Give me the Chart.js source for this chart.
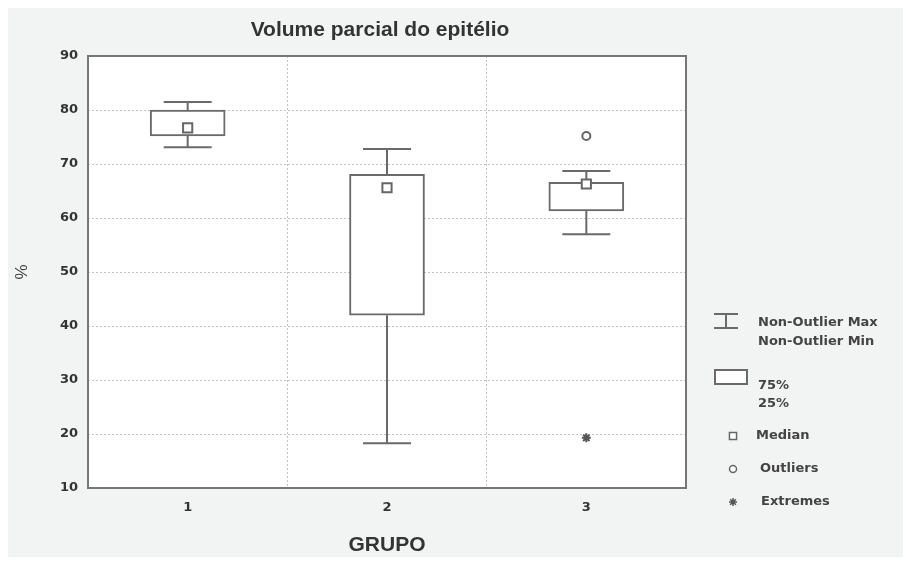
<!DOCTYPE html>
<html>
<head>
<meta charset="utf-8">
<script src="https://cdn.jsdelivr.net/npm/chart.js@4"></script>
<style>
  body { margin: 0; background: #fff; }
  canvas { display: block; }
</style>
</head>
<body>
<canvas id="boxChart" width="903" height="565"></canvas>
<script>
// values
const groups = ['1', '2', '3'];
const whiskerMin = [73.1, 18.3, 57.0];
const q1 = [75.2, 42.0, 61.3];
const medians = [76.7, 65.6, 66.3];
const q3 = [80.0, 68.1, 66.6];
const whiskerMax = [81.5, 72.8, 68.7];
const outliers = [null, null, 75.2];
const extremes = [null, null, 19.3];
const yTicks = [10, 20, 30, 40, 50, 60, 70, 80, 90];
const legendLabels = ['Non-Outlier Max', 'Non-Outlier Min', '75%', '25%', 'Median', 'Outliers', 'Extremes'];

const lineColor = '#6a6a6a';
const tickFont = { family: 'DejaVu Sans', weight: 'bold', size: 13 };

/* background panel, whiskers, frame, title, legend */
const boxPlugin = {
    id: 'boxExtras',
    beforeDraw(chart) {
        const ctx = chart.ctx;
        const a = chart.chartArea;
        ctx.save();
        ctx.fillStyle = '#fff';
        ctx.fillRect(0, 0, chart.width, chart.height);
        ctx.fillStyle = '#f2f3f3';
        ctx.fillRect(8, 8, chart.width - 8, chart.height - 16);
        ctx.fillStyle = '#fff';
        ctx.fillRect(a.left, a.top, a.right - a.left, a.bottom - a.top);
        ctx.restore();
    },
    beforeDatasetsDraw(chart) {
        const ctx = chart.ctx;
        const x = chart.scales.x, y = chart.scales.y;
        ctx.save();
        ctx.strokeStyle = lineColor;
        ctx.lineWidth = 2;
        for (let i = 0; i < groups.length; i++) {
            const cx = x.getPixelForValue(i);
            const yMax = y.getPixelForValue(whiskerMax[i]);
            const yMin = y.getPixelForValue(whiskerMin[i]);
            ctx.beginPath();
            ctx.moveTo(cx, yMax); ctx.lineTo(cx, y.getPixelForValue(q3[i]));
            ctx.moveTo(cx, yMin); ctx.lineTo(cx, y.getPixelForValue(q1[i]));
            ctx.moveTo(cx - 24, yMax); ctx.lineTo(cx + 24, yMax);
            ctx.moveTo(cx - 24, yMin); ctx.lineTo(cx + 24, yMin);
            ctx.stroke();
        }
        ctx.restore();
    },
    afterDraw(chart) {
        const ctx = chart.ctx;
        const a = chart.chartArea;
        ctx.save();
        // plot frame
        ctx.strokeStyle = '#777';
        ctx.lineWidth = 2;
        ctx.strokeRect(a.left, a.top, a.right - a.left, a.bottom - a.top);

        // title
        ctx.fillStyle = '#333';
        ctx.font = 'bold 21px "Liberation Sans"';
        ctx.textAlign = 'center';
        ctx.textBaseline = 'middle';
        ctx.fillText('Volume parcial do epitélio', 380, 30);

        // legend
        ctx.strokeStyle = lineColor;
        ctx.lineWidth = 2;
        ctx.beginPath();
        ctx.moveTo(726, 314); ctx.lineTo(726, 328);
        ctx.moveTo(714, 314); ctx.lineTo(738, 314);
        ctx.moveTo(714, 328); ctx.lineTo(738, 328);
        ctx.stroke();
        ctx.fillStyle = '#fff';
        ctx.fillRect(715, 370, 32, 14);
        ctx.strokeRect(715, 370, 32, 14);

        ctx.fillStyle = '#fff';
        ctx.strokeStyle = '#666';
        ctx.lineWidth = 1.5;
        Chart.helpers.drawPoint(ctx, { pointStyle: 'rect', radius: 5, rotation: 0, borderWidth: 1.5 }, 733, 436);
        Chart.helpers.drawPoint(ctx, { pointStyle: 'circle', radius: 3.5, rotation: 0, borderWidth: 1.5 }, 733, 469);
        ctx.strokeStyle = '#555';
        Chart.helpers.drawPoint(ctx, { pointStyle: 'star', radius: 4, rotation: 0, borderWidth: 1.5 }, 733, 502);

        ctx.fillStyle = '#444';
        ctx.font = 'bold 13px "DejaVu Sans"';
        ctx.textAlign = 'left';
        const spots = [[758, 323], [758, 342], [758, 386], [758, 404], [756, 436], [760, 469], [761, 502]];
        legendLabels.forEach(function(t, i) {
            ctx.fillText(t, spots[i][0], spots[i][1]);
        });
        ctx.restore();
    }
};

const config = {
    type: 'bar',
    data: {
        labels: groups,
        datasets: [
            {
                label: 'Box',
                data: groups.map((g, i) => [q1[i], q3[i]]),
                backgroundColor: '#fff',
                borderColor: lineColor,
                borderWidth: 2,
                borderSkipped: false,
                barThickness: 75,
                order: 2,
            },
            {
                type: 'line',
                label: 'Median',
                data: medians,
                showLine: false,
                pointStyle: 'rect',
                pointRadius: 6.5,
                pointBackgroundColor: '#fff',
                pointBorderColor: '#666',
                pointBorderWidth: 2,
                order: 1,
            },
            {
                type: 'line',
                label: 'Outliers',
                data: outliers,
                showLine: false,
                pointStyle: 'circle',
                pointRadius: 4,
                pointBackgroundColor: '#fff',
                pointBorderColor: '#666',
                pointBorderWidth: 2,
                order: 1,
            },
            {
                type: 'line',
                label: 'Extremes',
                data: extremes,
                showLine: false,
                pointStyle: 'star',
                pointRadius: 4.5,
                pointBorderColor: '#555',
                pointBorderWidth: 2,
                order: 1,
            },
        ]
    },
    options: {
        responsive: false,
        animation: false,
        events: [],
        layout: {
            padding: { left: 8, top: 56, right: 217, bottom: 0 }
        },
        plugins: {
            legend: { display: false },
            tooltip: { enabled: false },
        },
        scales: {
            x: {
                afterFit: function(s) { s.height = 77; },
                grid: { color: '#c4c4c4', drawTicks: false },
                border: { display: false, dash: [2, 2] },
                ticks: { font: tickFont, color: '#333', padding: 12 },
                title: {
                    display: true,
                    text: 'GRUPO',
                    color: '#333',
                    font: { family: 'Liberation Sans', weight: 'bold', size: 21 },
                    padding: { top: 0, bottom: 7 }
                }
            },
            y: {
                min: 10,
                max: 90,
                afterFit: function(s) { s.width = 80; },
                afterBuildTicks: function(s) { s.ticks = yTicks.map(v => ({ value: v })); },
                grid: { color: '#c4c4c4', drawTicks: false },
                border: { display: false, dash: [2, 2] },
                ticks: { font: tickFont, color: '#333', padding: 10 },
                title: {
                    display: true,
                    text: '%',
                    color: '#444',
                    font: { family: 'Liberation Sans', size: 17 },
                    padding: { top: 4, bottom: 4 }
                }
            }
        }
    },
    plugins: [boxPlugin]
};

var ctx = document.getElementById('boxChart').getContext('2d');
window.boxChart = new Chart(ctx, config);
</script>
</body>
</html>
